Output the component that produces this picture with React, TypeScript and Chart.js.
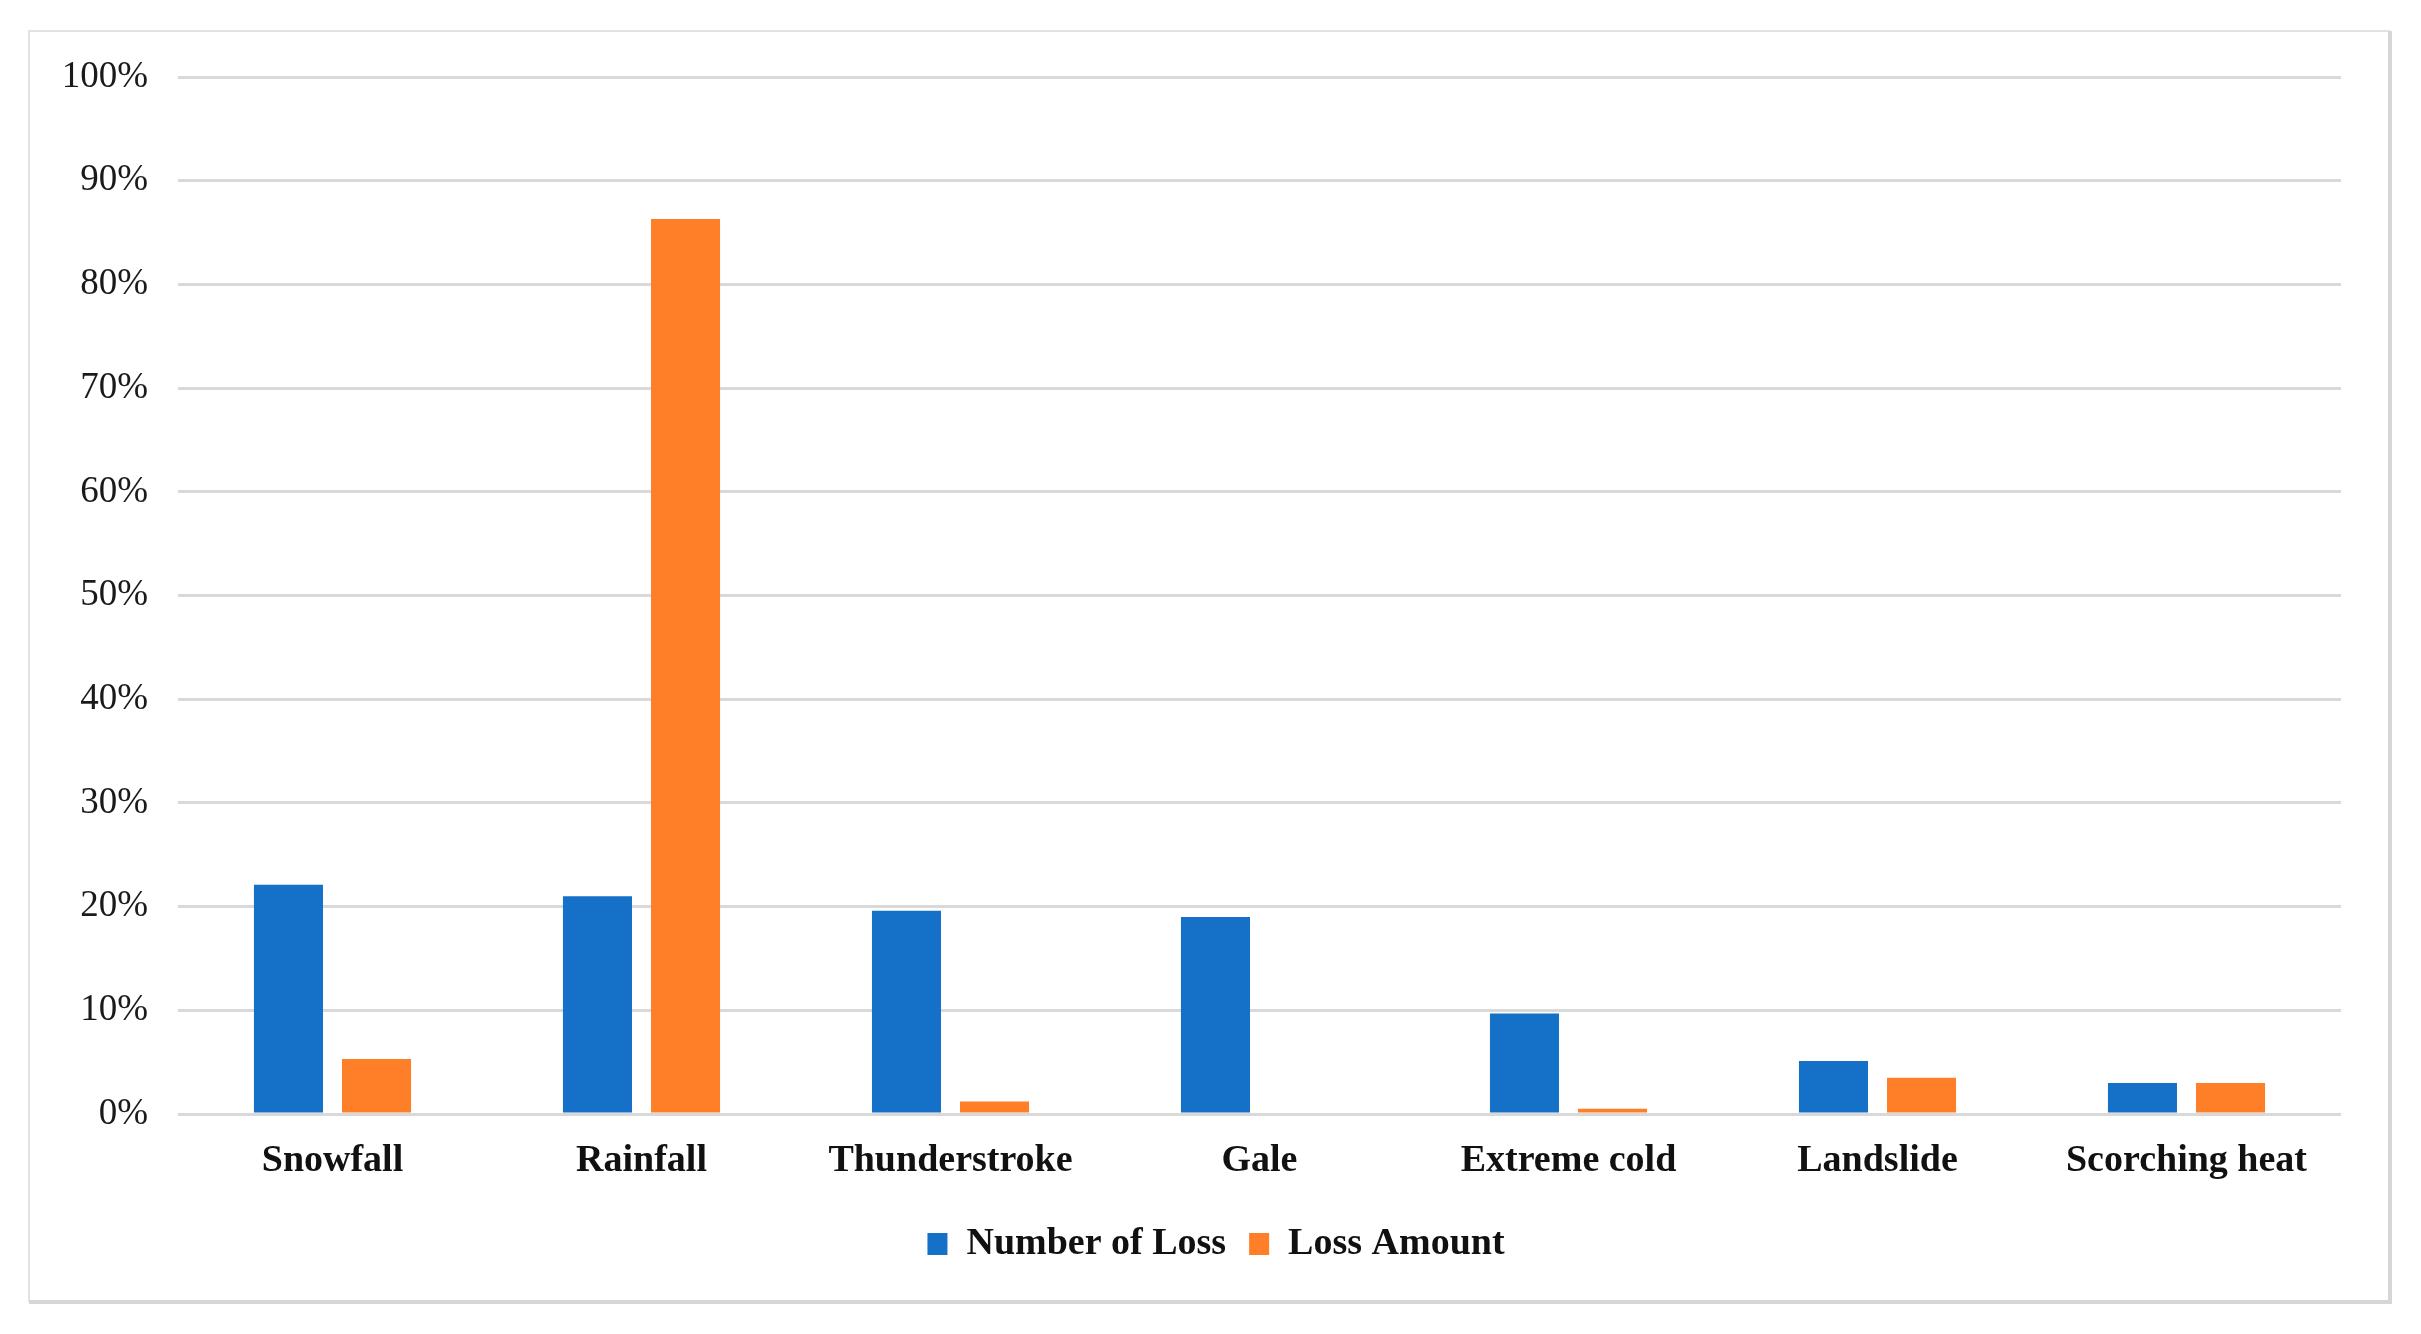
import React, { useEffect, useRef } from "react";
import { Chart, registerables } from "chart.js";

Chart.register(...registerables);

const categories = ["Snowfall", "Rainfall", "Thunderstroke", "Gale", "Extreme cold", "Landslide", "Scorching heat"];
const numberOfLoss = [22.1, 21.0, 19.6, 19.0, 9.7, 5.1, 3.0];
const lossAmount = [5.3, 86.3, 1.2, 0, 0.5, 3.5, 3.0];
const seriesNames = ["Number of Loss", "Loss Amount"];
const yTicks = [0, 10, 20, 30, 40, 50, 60, 70, 80, 90, 100];

const BLUE = "#1570C8";
const ORANGE = "#FE7F27";
const FONT = "'Liberation Serif', 'Times New Roman', serif";

const framePlugin = {
  id: "frame",
  beforeDraw(chart: any) {
    const ctx = chart.ctx;
    ctx.save();
    ctx.fillStyle = "#ffffff";
    ctx.fillRect(0, 0, chart.width, chart.height);
    const l = 29, t = 31, r = 2390, b = 1302;
    ctx.strokeStyle = "#e2e2e2";
    ctx.lineWidth = 2;
    ctx.beginPath();
    ctx.moveTo(l, b);
    ctx.lineTo(l, t);
    ctx.lineTo(r, t);
    ctx.stroke();
    ctx.strokeStyle = "#d6d6d6";
    ctx.lineWidth = 4;
    ctx.beginPath();
    ctx.moveTo(r, t);
    ctx.lineTo(r, b);
    ctx.lineTo(l, b);
    ctx.stroke();
    ctx.restore();
  },
};

export default function App() {
  const ref = useRef<HTMLCanvasElement | null>(null);

  useEffect(() => {
    document.body.style.margin = "0";
    document.body.style.overflow = "hidden";
    const canvas = ref.current;
    if (!canvas) return;
    const chart = new Chart(canvas, {
      type: "bar",
      data: {
        labels: categories,
        datasets: [
          {
            label: seriesNames[0],
            data: numberOfLoss,
            backgroundColor: BLUE,
            categoryPercentage: 0.57,
            barPercentage: 0.784,
          },
          {
            label: seriesNames[1],
            data: lossAmount,
            backgroundColor: ORANGE,
            categoryPercentage: 0.57,
            barPercentage: 0.784,
          },
        ],
      },
      options: {
        responsive: false,
        animation: false,
        devicePixelRatio: 1,
        layout: { padding: { left: 91, right: 80, top: 77, bottom: 61 } },
        plugins: {
          legend: {
            position: "bottom",
            labels: {
              boxWidth: 20,
              boxHeight: 22,
              padding: 23,
              color: "#111",
              font: { family: FONT, size: 38, weight: "bold" },
            },
          },
          tooltip: { enabled: false },
        },
        scales: {
          x: {
            grid: { display: false, drawTicks: false },
            border: { display: false },
            ticks: {
              color: "#111",
              padding: 24,
              font: { family: FONT, size: 38, weight: "bold" },
              maxRotation: 0,
              autoSkip: false,
            },
            afterFit(scale: any) {
              scale.height = 88;
            },
          },
          y: {
            min: 0,
            max: 100,
            afterBuildTicks(scale: any) {
              scale.ticks = yTicks.map((v) => ({ value: v }));
            },
            grid: { color: "#d9d9d9", lineWidth: 3, drawTicks: false },
            border: { display: false },
            ticks: {
              color: "#1a1a1a",
              padding: 30,
              font: { family: FONT, size: 37 },
              callback: (v: any) => v + "%",
            },
            afterFit(scale: any) {
              scale.width = 87;
              scale._computeLabelArea = () => undefined;
            },
          },
        },
      },
      plugins: [framePlugin],
    });
    return () => chart.destroy();
  }, []);

  return <canvas ref={ref} width={2421} height={1334} style={{ display: "block" }} />;
}
